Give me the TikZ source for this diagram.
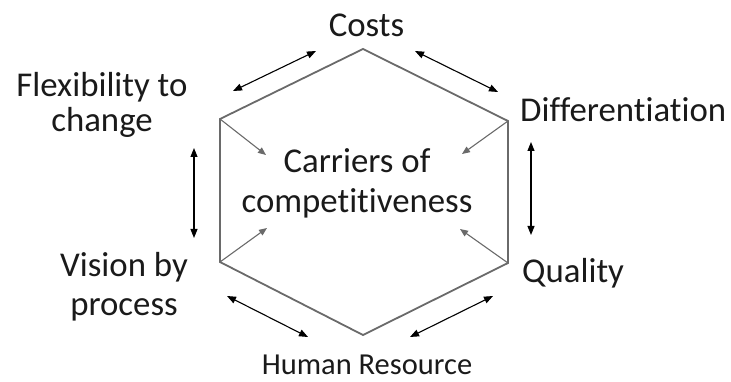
\documentclass[tikz,border=0pt]{standalone}
\usepackage{fontspec}
\setmainfont{Carlito}[RawFeature={-liga}]
\usetikzlibrary{arrows.meta}
\definecolor{hexgray}{HTML}{6A6A6A}
\definecolor{txt}{HTML}{1A1A1A}
\begin{document}
\begin{tikzpicture}[x=1pt,y=-1pt,
  lbl/.style={inner sep=0pt, text=txt, font=\fontsize{34.8}{39}\selectfont, align=center},
  outerarrow/.style={draw=black, line width=1.1pt, {Triangle[length=9pt,width=7pt]}-{Triangle[length=9pt,width=7pt]}},
  innerarrow/.style={draw=hexgray, line width=1.1pt, -{Triangle[length=8pt,width=6.5pt]}},
  hexline/.style={draw=hexgray, line width=1.8pt, line join=miter}]
\useasboundingbox (0,0) rectangle (731,382);
% hexagon vertices
\coordinate (T) at (363,49);
\coordinate (UR) at (508,121);
\coordinate (LR) at (508,263);
\coordinate (B) at (363,335);
\coordinate (LL) at (220,262);
\coordinate (UL) at (220,119);
\draw[hexline] (T) -- (UR) -- (LR) -- (B) -- (LL) -- (UL) -- cycle;
% inner arrow ends
\coordinate (iUL) at (266,155);
\coordinate (iUR) at (462,154);
\coordinate (iLL) at (267,228);
\coordinate (iLR) at (460,229);
\draw[innerarrow] (UL) -- (iUL);
\draw[innerarrow] (UR) -- (iUR);
\draw[innerarrow] (LL) -- (iLL);
\draw[innerarrow] (LR) -- (iLR);
% labels
\node[lbl, anchor=base] (costs) at (366.5,37) {Costs};
\node[lbl, anchor=base west] (diff) at (520,122) {Differentiation};
\node[lbl, anchor=base west] (qual) at (522,283) {Quality};
\node[lbl, anchor=base] (hr) at (367,374) {\fontsize{30.5}{36}\selectfont Human Resource};
\node[lbl, anchor=base] (flex) at (102,132) {Flexibility to\\[-4pt]change};
\node[lbl, anchor=base] (vis) at (124,315) {Vision by\\process};
\node[lbl, anchor=base] (carr) at (357,213) {Carriers of\\[1pt]competitiveness};
% outer arrow ends
\coordinate (a1s) at (233,91);
\coordinate (a1e) at (316,51);
\coordinate (a2s) at (415,51);
\coordinate (a2e) at (498,92);
\coordinate (a3s) at (531,142);
\coordinate (a3e) at (531,235);
\coordinate (a4s) at (194,148);
\coordinate (a4e) at (194,238);
\coordinate (a5s) at (227,296);
\coordinate (a5e) at (308,337);
\coordinate (a6s) at (410,337);
\coordinate (a6e) at (493,296);
\draw[outerarrow] (a1s) -- (a1e);
\draw[outerarrow] (a2s) -- (a2e);
\draw[outerarrow] (a3s) -- (a3e);
\draw[outerarrow] (a4s) -- (a4e);
\draw[outerarrow] (a5s) -- (a5e);
\draw[outerarrow] (a6s) -- (a6e);
\end{tikzpicture}
\end{document}
